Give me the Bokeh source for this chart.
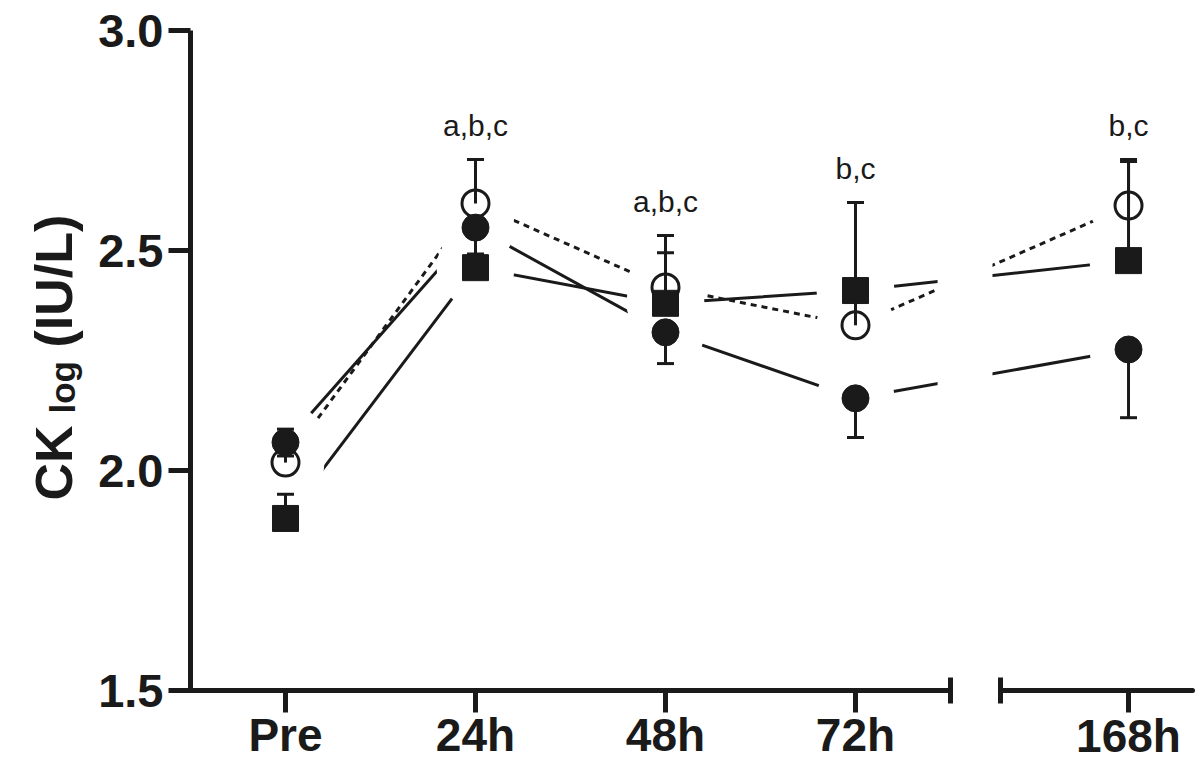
import numpy as np
from bokeh.plotting import figure
from bokeh.models import FixedTicker, BoxAnnotation, Label, Range1d, NumeralTickFormatter, LinearAxis
from bokeh.core.properties import value
from bokeh.embed import file_html
from bokeh.resources import INLINE

# ---------------- data ----------------
categories = ["Pre", "24h", "48h", "72h", "168h"]
y_ticks = [1.5, 2.0, 2.5, 3.0]

open_mean = [2.018, 2.607, 2.416, 2.330, 2.602]
open_sem = [0.015, 0.100, 0.118, 0.070, 0.100]

filled_mean = [2.064, 2.552, 2.314, 2.164, 2.275]
filled_sem = [0.030, 0.060, 0.071, 0.089, 0.155]

square_mean = [1.891, 2.461, 2.380, 2.409, 2.477]
square_sem = [0.055, 0.070, 0.115, 0.200, 0.230]

sig_labels = ["", "a,b,c", "a,b,c", "b,c", "b,c"]

# ---------------- layout / style ----------------
INK = "#1a1a1a"
FONT = "Liberation Sans"
W, H = 1196, 763
PX_PER_X, PX_PER_Y = 190.0, 440.0
xpos = [0, 1, 2, 3, 4.437]          # category positions (168h after axis break)
open_dir = [1, 1, 1, 1, 1]
filled_dir = [1, -1, -1, -1, -1]
square_dir = [1, 1, 1, 1, 1]
X_AX, Y_AX = -0.5, 1.5              # where the axes cross
X_END = 4.774                       # end of the x axis line
BRK_L, BRK_R = 3.5, 3.763           # axis break

# frame covers the whole canvas; axes are drawn at fixed locations inside it
x_start = X_AX - 190 / PX_PER_X
y_end = 3.0 + 30 / PX_PER_Y
p = figure(width=W, height=H, output_backend="svg", toolbar_location=None,
           x_range=Range1d(x_start, x_start + W / PX_PER_X),
           y_range=Range1d(y_end - H / PX_PER_Y, y_end),
           min_border=0)
p.outline_line_color = None
p.grid.visible = False
p.background_fill_color = "white"
p.border_fill_color = "white"

# y axis
ya = p.yaxis[0]
ya.fixed_location = X_AX
ya.bounds = (1.5, 3.0)
ya.ticker = FixedTicker(ticks=y_ticks)
ya.formatter = NumeralTickFormatter(format="0.0")
ya.axis_line_width = 5
ya.axis_line_color = INK
ya.major_tick_line_width = 5
ya.major_tick_line_color = INK
ya.major_tick_out = 22
ya.major_tick_in = 0
ya.minor_tick_line_color = None
ya.major_label_standoff = 5
ya.major_label_text_font = FONT
ya.major_label_text_font_style = "bold"
ya.major_label_text_font_size = "47px"
ya.major_label_text_color = INK


def style_x(ax, standoff):
    ax.fixed_location = Y_AX
    ax.axis_line_width = 5
    ax.axis_line_color = INK
    ax.axis_line_cap = "round"
    ax.major_tick_line_width = 5
    ax.major_tick_line_color = INK
    ax.major_tick_out = 22
    ax.major_tick_in = 0
    ax.minor_tick_line_width = 5
    ax.minor_tick_line_color = INK
    ax.minor_tick_out = 13
    ax.minor_tick_in = 13
    ax.major_label_standoff = standoff
    ax.major_label_text_font = FONT
    ax.major_label_text_font_style = "bold"
    ax.major_label_text_font_size = "46px"
    ax.major_label_text_color = INK


# x axis, first segment (Pre..72h)
xa = p.xaxis[0]
xa.bounds = (X_AX, BRK_L)
xa.ticker = FixedTicker(ticks=xpos[:4], minor_ticks=[BRK_L])
xa.major_label_overrides = {x: c for x, c in zip(xpos[:4], categories[:4])}
style_x(xa, -4)

# x axis, second segment after the break (168h)
xb = LinearAxis(bounds=(BRK_R, X_END))
xb.ticker = FixedTicker(ticks=xpos[4:], minor_ticks=[BRK_R])
xb.major_label_overrides = {x: c for x, c in zip(xpos[4:], categories[4:])}
style_x(xb, -3)
p.add_layout(xb, "below")

# connecting lines
p.line(xpos, square_mean, line_width=3, line_color=INK)
p.line(xpos, filled_mean, line_width=3, line_color=INK)
p.line(xpos, open_mean, line_width=3, line_color=INK, line_dash="6 5")

# gap in lines across the axis break
p.add_layout(BoxAnnotation(left=3.432, right=3.721, bottom=1.9, top=2.95,
                           fill_color="white", fill_alpha=1.0, line_color=None, level="glyph"))

# white halos so that lines stop short of symbols
for m in (open_mean, filled_mean, square_mean):
    p.scatter(xpos, m, size=78, marker="circle", fill_color="white", line_color=None)


def errbars(mean, sem, d):
    ends = [m + s * k for m, s, k in zip(mean, sem, d)]
    p.segment(x0=xpos, y0=mean, x1=xpos, y1=ends, line_width=3, line_color=INK)
    p.scatter(xpos, ends, marker="dash", size=17, line_width=3, line_color=INK)
    return ends


open_ends = errbars(open_mean, open_sem, open_dir)
p.scatter(xpos, open_mean, marker="circle", size=27, fill_alpha=0, line_color=INK, line_width=3)

filled_ends = errbars(filled_mean, filled_sem, filled_dir)
p.scatter(xpos, filled_mean, marker="circle", size=27, fill_color=INK, line_color=INK, line_width=1)

square_ends = errbars(square_mean, square_sem, square_dir)
p.scatter(xpos, square_mean, marker="square", size=26, fill_color=INK, line_color=INK, line_width=1)

# significance letters above the highest error bar
tops = [max(a, b, c, m1, m2, m3) for a, b, c, m1, m2, m3 in
        zip(open_ends, filled_ends, square_ends, open_mean, filled_mean, square_mean)]
p.text(x=xpos, y=tops, text=sig_labels, text_align="center", text_baseline="alphabetic",
       y_offset=-34, text_font=value(FONT), text_font_size="30px", text_color=INK)


# y axis title: CK_log (IU/L)
def px_x(px):
    return x_start + px / PX_PER_X


def px_y(py):
    return y_end - py / PX_PER_Y


for txt, bx, by, fs in [("CK", 53, 500, "52px"), ("log", 62, 413, "35px"), ("(IU/L)", 53, 347, "52px")]:
    p.add_layout(Label(x=px_x(bx), y=px_y(by), text=txt, angle=np.pi / 2,
                       text_font=FONT, text_font_style="bold", text_font_size=fs,
                       text_align="left", text_baseline="alphabetic", text_color=INK))

open("out.html", "w").write(file_html(p, INLINE))
